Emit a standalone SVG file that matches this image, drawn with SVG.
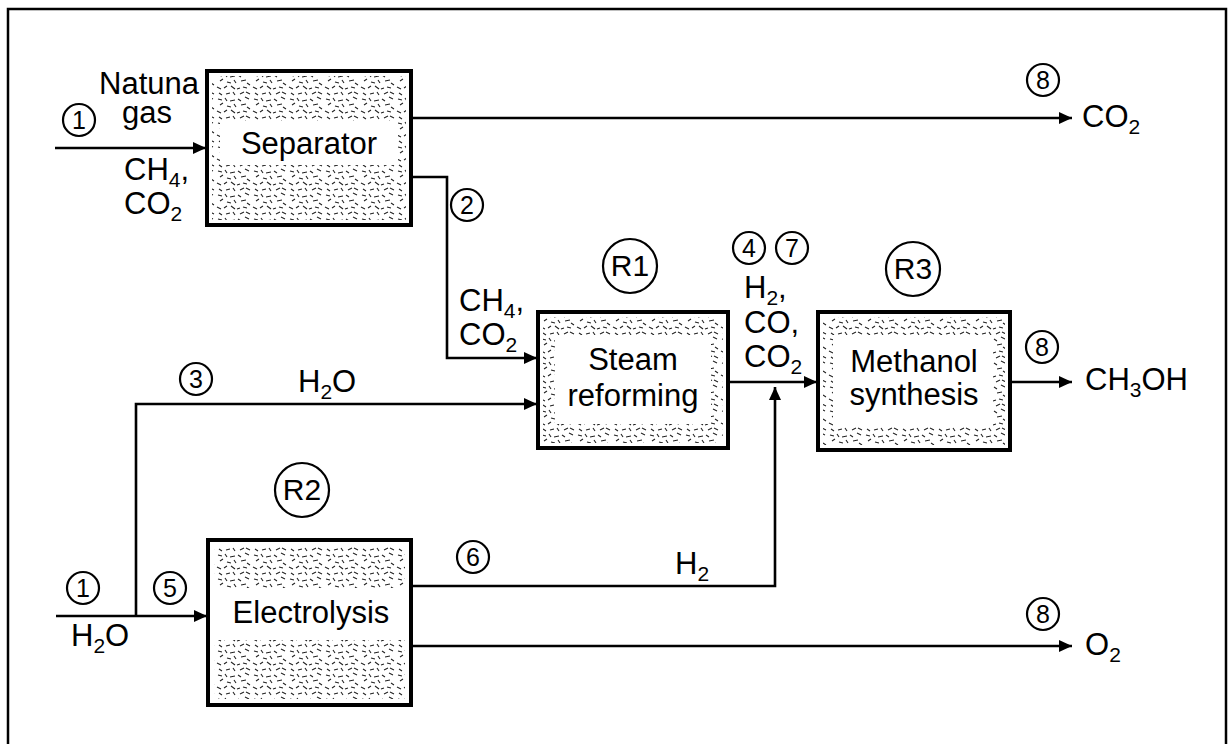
<svg xmlns="http://www.w3.org/2000/svg" width="1228" height="744" viewBox="0 0 1228 744">
<defs>
<style>
.t{font-family:"Liberation Sans",Arial,sans-serif;font-size:31px;fill:#000}
.s{font-size:21px}
.n{font-family:"Liberation Sans",Arial,sans-serif;font-size:25px;fill:#000;text-anchor:middle}
.r{font-family:"Liberation Sans",Arial,sans-serif;font-size:30px;fill:#000;text-anchor:middle}
.m{text-anchor:middle}
.box{fill:#fff;stroke:#000;stroke-width:4}
.tex{fill:url(#stip);stroke:none}
.c{fill:#fff;stroke:#000;stroke-width:2.2}
.ln{fill:none;stroke:#000;stroke-width:2.6;stroke-linejoin:miter}
</style>
<pattern id="stip" width="36" height="24" patternUnits="userSpaceOnUse">
<g stroke="#222" stroke-width="1.1" fill="none">
<path d="M2,3 l4,1 M9,2 l2,3 M14,5 l5,-1 M22,3 l3,2 M29,1 l4,2 M4,9 l3,-2 M11,10 l4,1 M18,8 l2,3 M25,9 l5,-1 M31,11 l3,2 M1,15 l4,2 M8,16 l3,-2 M15,14 l4,3 M21,17 l3,-1 M27,15 l4,1 M3,21 l3,2 M10,22 l4,-1 M17,20 l2,3 M24,22 l4,-2 M30,20 l4,2"/>
</g>
</pattern>
<marker id="ah" markerWidth="13" markerHeight="12" refX="13" refY="6" orient="auto" markerUnits="userSpaceOnUse">
<path d="M0,0 L13,6 L0,12 z" fill="#000"/>
</marker>
</defs>
<rect width="1228" height="744" fill="#fff"/>
<rect x="8" y="9" width="1218" height="760" fill="none" stroke="#000" stroke-width="2.5"/>

<g id="connectors">
<path class="ln" d="M55,148 H206" marker-end="url(#ah)"/>
<path class="ln" d="M411,118 H1072" marker-end="url(#ah)"/>
<path class="ln" d="M411,177 H447 V358 H537" marker-end="url(#ah)"/>
<path class="ln" d="M136,616 V404 H537" marker-end="url(#ah)"/>
<path class="ln" d="M56,616 H207" marker-end="url(#ah)"/>
<path class="ln" d="M729,382 H817" marker-end="url(#ah)"/>
<path class="ln" d="M1010,382 H1072" marker-end="url(#ah)"/>
<path class="ln" d="M411,586 H775 V387" marker-end="url(#ah)"/>
<path class="ln" d="M411,646 H1072" marker-end="url(#ah)"/>
</g>

<g id="separator">
<rect class="box" x="207" y="71" width="204" height="154"/>
<rect class="tex" x="212" y="76" width="194" height="45"/>
<rect class="tex" x="212" y="165" width="194" height="55"/>
<rect class="tex" x="212" y="121" width="8" height="44"/>
<rect class="tex" x="398" y="121" width="8" height="44"/>
<text class="t m" x="309" y="154">Separator</text>
</g>

<g id="steam-reforming">
<rect class="box" x="538" y="312" width="190" height="136"/>
<rect class="tex" x="543" y="317" width="180" height="18"/>
<rect class="tex" x="543" y="424" width="180" height="19"/>
<rect class="tex" x="543" y="335" width="12" height="89"/>
<rect class="tex" x="711" y="335" width="12" height="89"/>
<text class="t m" x="633" y="370">Steam</text>
<text class="t m" x="633" y="406">reforming</text>
</g>

<g id="methanol-synthesis">
<rect class="box" x="818" y="312" width="192" height="138"/>
<rect class="tex" x="823" y="317" width="182" height="18"/>
<rect class="tex" x="823" y="426" width="182" height="19"/>
<rect class="tex" x="823" y="335" width="10" height="91"/>
<rect class="tex" x="993" y="335" width="12" height="91"/>
<text class="t m" x="914" y="372">Methanol</text>
<text class="t m" x="914" y="405">synthesis</text>
</g>

<g id="electrolysis">
<rect class="box" x="208" y="540" width="203" height="165"/>
<rect class="tex" x="214" y="546" width="191" height="42"/>
<rect class="tex" x="214" y="640" width="191" height="59"/>
<text class="t m" x="311" y="623">Electrolysis</text>
</g>

<g id="label-R1"><circle class="c" cx="630" cy="266" r="27"/><text class="r" x="630" y="276">R1</text></g>
<g id="label-R2"><circle class="c" cx="302" cy="490" r="27"/><text class="r" x="302" y="500">R2</text></g>
<g id="label-R3"><circle class="c" cx="913" cy="269" r="27"/><text class="r" x="913" y="279">R3</text></g>

<g id="stream-labels">
<circle class="c" cx="79" cy="120" r="16"/><text class="n" x="79" y="129">1</text>
<circle class="c" cx="467" cy="205" r="16"/><text class="n" x="467" y="214">2</text>
<circle class="c" cx="196" cy="379" r="16"/><text class="n" x="196" y="388">3</text>
<circle class="c" cx="749" cy="248" r="16"/><text class="n" x="749" y="257">4</text>
<circle class="c" cx="792" cy="248" r="16"/><text class="n" x="792" y="257">7</text>
<circle class="c" cx="83" cy="588" r="16"/><text class="n" x="83" y="597">1</text>
<circle class="c" cx="170" cy="588" r="16"/><text class="n" x="170" y="597">5</text>
<circle class="c" cx="473" cy="557" r="16"/><text class="n" x="473" y="566">6</text>
<circle class="c" cx="1043" cy="80" r="16"/><text class="n" x="1043" y="89">8</text>
<circle class="c" cx="1042" cy="347" r="16"/><text class="n" x="1042" y="356">8</text>
<circle class="c" cx="1043" cy="614" r="16"/><text class="n" x="1043" y="623">8</text>
</g>

<g id="texts">
<text class="t" x="99" y="94">Natuna</text>
<text class="t" x="122" y="123">gas</text>
<text class="t" x="124" y="180">CH<tspan class="s" dy="7">4</tspan><tspan dy="-7">,</tspan></text>
<text class="t" x="124" y="214">CO<tspan class="s" dy="7">2</tspan></text>
<text class="t" x="1082" y="127">CO<tspan class="s" dy="7">2</tspan></text>
<text class="t" x="459" y="311">CH<tspan class="s" dy="7">4</tspan><tspan dy="-7">,</tspan></text>
<text class="t" x="459" y="345">CO<tspan class="s" dy="7">2</tspan></text>
<text class="t" x="744" y="298">H<tspan class="s" dy="7">2</tspan><tspan dy="-7">,</tspan></text>
<text class="t" x="744" y="333">CO,</text>
<text class="t" x="744" y="367">CO<tspan class="s" dy="7">2</tspan></text>
<text class="t" x="1085" y="390">CH<tspan class="s" dy="7">3</tspan><tspan dy="-7">OH</tspan></text>
<text class="t" x="298" y="392">H<tspan class="s" dy="7">2</tspan><tspan dy="-7">O</tspan></text>
<text class="t" x="71" y="646">H<tspan class="s" dy="7">2</tspan><tspan dy="-7">O</tspan></text>
<text class="t" x="675" y="574">H<tspan class="s" dy="7">2</tspan></text>
<text class="t" x="1085" y="655">O<tspan class="s" dy="7">2</tspan></text>
</g>
</svg>
